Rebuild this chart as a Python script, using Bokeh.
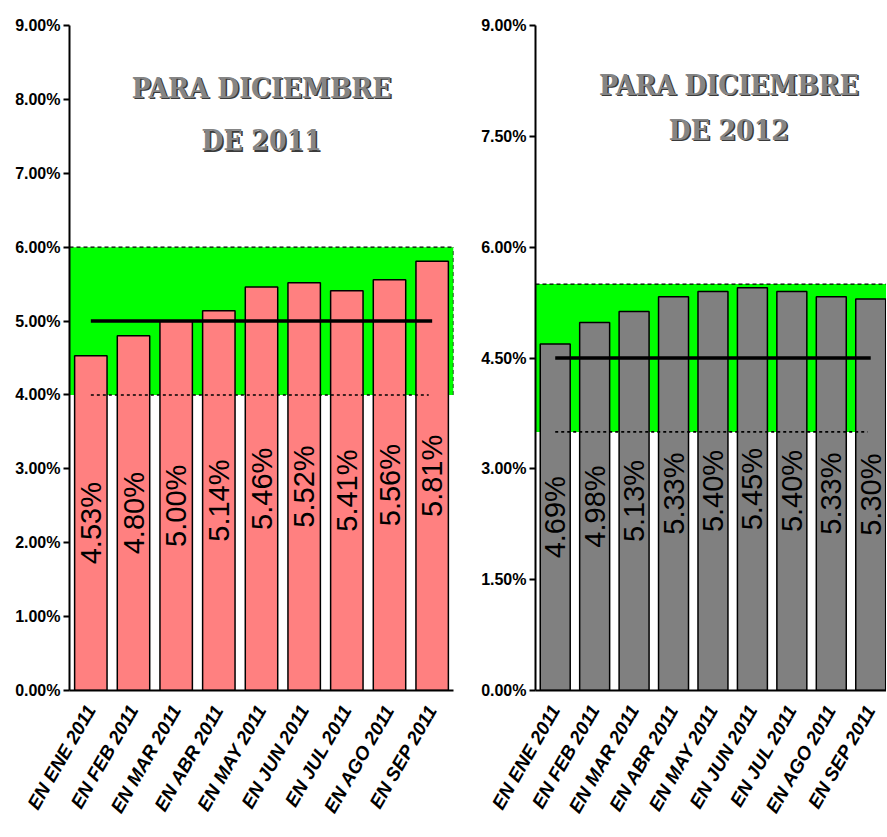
import math
from bokeh.plotting import figure
from bokeh.layouts import row
from bokeh.models import Range1d, FixedTicker, PrintfTickFormatter, Label, ColumnDataSource
from bokeh.core.properties import value
from bokeh.embed import file_html
from bokeh.resources import INLINE

# ---------------- data ----------------
categories = ["EN ENE 2011", "EN FEB 2011", "EN MAR 2011", "EN ABR 2011", "EN MAY 2011",
              "EN JUN 2011", "EN JUL 2011", "EN AGO 2011", "EN SEP 2011"]
vals_2011 = [4.53, 4.80, 5.00, 5.14, 5.46, 5.52, 5.41, 5.56, 5.81]
vals_2012 = [4.69, 4.98, 5.13, 5.33, 5.40, 5.45, 5.40, 5.33, 5.30]

band_2011 = (4.0, 6.0)
target_2011 = 5.0
band_2012 = (3.5, 5.5)
target_2012 = 4.5

yticks_2011 = [0, 1, 2, 3, 4, 5, 6, 7, 8, 9]
yticks_2012 = [0, 1.5, 3, 4.5, 6, 7.5, 9]

title_2011 = ["PARA DICIEMBRE", "DE 2011"]
title_2012 = ["PARA DICIEMBRE", "DE 2012"]

SANS = "Liberation Sans"
SERIF = "DejaVu Serif Condensed"


def make_panel(vals, band, target, yticks, title_lines, bar_color, width, left_border,
               right_border, x_end, title_pos):
    n = len(vals)
    xs = [i + 0.5 for i in range(n)]
    p = figure(width=width, height=836, output_backend="svg", toolbar_location=None,
               x_range=Range1d(0, x_end), y_range=Range1d(0, 9),
               min_border_left=left_border, min_border_right=right_border,
               min_border_top=25, min_border_bottom=146)
    p.outline_line_color = None
    p.xgrid.visible = False
    p.ygrid.visible = False
    p.background_fill_color = "white"

    # target band
    p.quad(left=[0], right=[n], bottom=[band[0]], top=[band[1]],
           fill_color="#00FF00", line_color=None)
    p.segment(x0=[0], x1=[n], y0=[band[1]], y1=[band[1]], line_color="black",
              line_width=1.3, line_dash="4 3")
    p.segment(x0=[n], x1=[n], y0=[band[0]], y1=[band[1]], line_color="black",
              line_width=1.3, line_dash="4 3")

    src = ColumnDataSource(dict(x=xs, top=vals, mid=[v / 2 for v in vals],
                                lab=[f"{v:.2f}%" for v in vals]))
    p.vbar(x="x", top="top", bottom=0, width=0.76, source=src,
           fill_color=bar_color, line_color="black", line_width=1.5)

    # lower band line (dotted) and target line
    p.segment(x0=[xs[0]], x1=[xs[-1] - 0.08], y0=[band[0]], y1=[band[0]],
              line_color="black", line_width=1.6, line_dash="3 3")
    p.segment(x0=[xs[0]], x1=[xs[-1]], y0=[target], y1=[target],
              line_color="black", line_width=3.5)

    p.text(x="x", y="mid", text="lab", source=src, angle=math.pi / 2,
           text_align="center", text_baseline="middle",
           text_font=value(SANS), text_font_size="29px", text_color="black")

    # titles
    for i, line in enumerate(title_lines):
        ty = title_pos[1] - i * title_pos[2]
        p.add_layout(Label(x=title_pos[0], y=ty, text=line, text_align="center",
                           text_baseline="middle", text_font=SERIF, text_font_style="bold",
                           text_font_size="28px", text_color="#3a3a3a",
                           x_offset=1.5, y_offset=-1.5))
        p.add_layout(Label(x=title_pos[0], y=ty, text=line, text_align="center",
                           text_baseline="middle", text_font=SERIF, text_font_style="bold",
                           text_font_size="28px", text_color="#858585"))

    # y axis
    ya = p.yaxis[0]
    ya.ticker = FixedTicker(ticks=yticks)
    ya.formatter = PrintfTickFormatter(format="%.2f%%")
    ya.axis_line_width = 2
    ya.axis_line_color = "black"
    ya.major_tick_out = 6
    ya.major_tick_in = 0
    ya.major_tick_line_width = 2
    ya.minor_tick_line_color = None
    ya.major_label_text_font = SANS
    ya.major_label_text_font_style = "bold"
    ya.major_label_text_font_size = "16px"
    ya.major_label_text_color = "black"
    ya.major_label_standoff = 3

    # x axis
    xa = p.xaxis[0]
    xa.ticker = FixedTicker(ticks=xs)
    xa.major_label_overrides = {x: c for x, c in zip(xs, categories)}
    xa.axis_line_width = 2
    xa.axis_line_color = "black"
    xa.major_tick_line_color = None
    xa.minor_tick_line_color = None
    xa.major_label_orientation = math.radians(60)
    xa.major_label_text_font = SANS
    xa.major_label_text_font_style = "bold italic"
    xa.major_label_text_font_size = "19px"
    xa.major_label_text_color = "black"
    xa.major_label_standoff = 10
    return p


p1 = make_panel(vals_2011, band_2011, target_2011, yticks_2011, title_2011, "#FF8080",
                width=470, left_border=69, right_border=17, x_end=9,
                title_pos=(4.5, 8.15, 0.71))
p2 = make_panel(vals_2012, band_2012, target_2012, yticks_2012, title_2012, "#808080",
                width=416, left_border=65, right_border=0, x_end=8.9,
                title_pos=(4.9, 8.19, 0.61))

layout = row(p1, p2)
open("out.html", "w").write(file_html(layout, INLINE))
